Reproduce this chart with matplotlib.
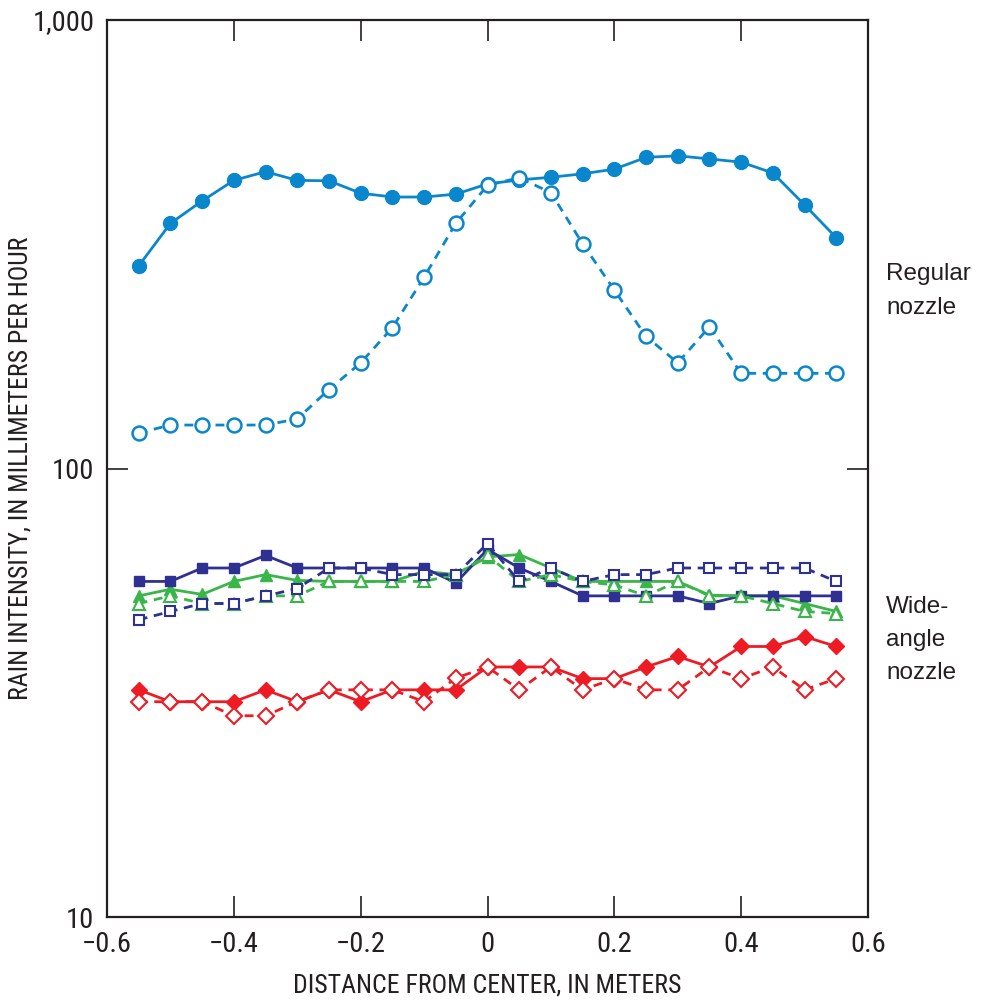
import matplotlib
matplotlib.use("Agg")
import matplotlib.pyplot as plt
from matplotlib import font_manager

# ---------------- data ----------------
distance = [-0.55, -0.50, -0.45, -0.40, -0.35, -0.30, -0.25, -0.20, -0.15, -0.10, -0.05,
            0.00, 0.05, 0.10, 0.15, 0.20, 0.25, 0.30, 0.35, 0.40, 0.45, 0.50, 0.55]

regular_filled = [283, 352, 395, 439, 459, 439, 438, 411, 403, 403, 409,
                  431, 440, 446, 454, 465, 494, 498, 490, 482, 456, 387, 327]
regular_open = [120, 125, 125, 125, 125, 129, 150, 172, 206, 267, 352,
                428, 445, 412, 317, 250, 197, 172, 207, 163, 163, 163, 163]

wide_sq_filled = [56, 56, 60, 60, 64, 60, 60, 60, 60, 60, 55.6,
                  66, 60, 56, 52, 52, 52, 52, 50, 52, 52, 52, 52]
wide_sq_open = [46, 48, 50, 50, 52, 54, 60, 60, 58, 58, 58,
                68, 56, 60, 56, 58, 58, 60, 60, 60, 60, 60, 56]
wide_tri_filled = [52, 53.8, 52.4, 56, 58, 56.3, 56, 56, 56, 59, 58,
                   63.5, 64.3, 60, 56, 56, 56, 56, 52.2, 52, 52, 50, 48]
wide_tri_open = [50, 52, 50, 50, 52, 52, 56, 56, 56, 56, 58,
                 64, 56, 58, 56, 55, 52, 56, 52, 52, 50, 48, 47.5]
wide_dia_filled = [32.1, 30.2, 30.2, 30.2, 32.1, 30.2, 32.1, 30.2, 32.1, 32.1, 32.1,
                   36.1, 36.1, 36.1, 34, 34, 36.1, 38.1, 36.1, 40.1, 40.1, 42.2, 40.1]
wide_dia_open = [30.2, 30.2, 30.2, 28.1, 28.1, 30.2, 32.1, 32.1, 32.1, 30.2, 34.1,
                 36.1, 32.1, 36.1, 32.1, 34, 32.1, 32.1, 36.1, 34, 36.1, 32.1, 34]

x_ticks = [-0.6, -0.4, -0.2, 0.0, 0.2, 0.4, 0.6]
x_tick_labels = ["\u22120.6", "\u22120.4", "\u22120.2", "0", "0.2", "0.4", "0.6"]
y_ticks = [10, 100, 1000]
y_tick_labels = ["10", "100", "1,000"]

# ---------------- style ----------------
fl = font_manager.fontManager.ttflist
names = {f.name for f in fl}
cond_family = None
cond_stretch = 'normal'
for cand in ["Liberation Sans Narrow", "Roboto Condensed", "Open Sans Condensed",
             "Noto Sans Condensed", "DejaVu Sans Condensed"]:
    if cand in names:
        cond_family = cand
        break
if cond_family is None:
    if any(f.name == "DejaVu Sans" and str(f.stretch) in ("condensed", "semi-condensed")
           for f in fl):
        cond_family = "DejaVu Sans"
        cond_stretch = "condensed"
    elif any(f.name == "Noto Sans" and str(f.stretch) in ("condensed", "extra-condensed", "semi-condensed")
             for f in fl):
        cond_family = "Noto Sans"
        cond_stretch = "condensed"
    elif any(f.name == "Roboto" and str(f.stretch) in ("condensed", "semi-condensed")
             for f in fl):
        cond_family = "Roboto"
        cond_stretch = "condensed"
    else:
        cond_family = "Liberation Sans"

plt.rcParams['font.family'] = [cond_family, 'DejaVu Sans']
plt.rcParams['font.stretch'] = cond_stretch

LBLUE = "#0a87cc"
NAVY = "#2e3192"
GREEN = "#3ab54a"
RED = "#ed1c24"
INK = "#231f20"

fig = plt.figure(figsize=(9.82, 10.01), dpi=100)
ax = fig.add_axes([107/982, 1-917/1001, (868-107)/982, (917-20)/1001])

dash = (0, (3.2, 2.4))
lw = 2.0

ax.plot(distance, regular_filled, color=LBLUE, lw=lw, marker='o', ms=10,
        mfc=LBLUE, mec=LBLUE, zorder=3)
ax.plot(distance, regular_open, color=LBLUE, lw=lw, ls=dash, marker='o', ms=10,
        mfc='white', mec=LBLUE, mew=1.8, zorder=4)

ax.plot(distance, wide_dia_filled, color=RED, lw=lw, marker='D', ms=8,
        mfc=RED, mec=RED, zorder=3)
ax.plot(distance, wide_dia_open, color=RED, lw=lw, ls=dash, marker='D', ms=8,
        mfc='white', mec=RED, mew=1.5, zorder=4)

ax.plot(distance, wide_tri_filled, color=GREEN, lw=lw, marker='^', ms=8.5,
        mfc=GREEN, mec=GREEN, zorder=3)
ax.plot(distance, wide_tri_open, color=GREEN, lw=lw, ls=dash, marker='^', ms=8.5,
        mfc='white', mec=GREEN, mew=1.5, zorder=4)

ax.plot(distance, wide_sq_filled, color=NAVY, lw=lw, marker='s', ms=7.5,
        mfc=NAVY, mec=NAVY, zorder=3)
ax.plot(distance, wide_sq_open, color=NAVY, lw=lw, ls=dash, marker='s', ms=7.5,
        mfc='white', mec=NAVY, mew=1.5, zorder=4)

ax.set_yscale('log')
ax.set_xlim(-0.6, 0.6)
ax.set_ylim(10, 1000)
ax.set_xticks(x_ticks)
ax.set_xticklabels(x_tick_labels)
ax.set_yticks(y_ticks)
ax.set_yticklabels(y_tick_labels)
ax.yaxis.set_minor_locator(matplotlib.ticker.NullLocator())

ax.tick_params(axis='both', which='major', direction='in', length=15, width=1.2,
               top=True, right=True, labelsize=20.5, color=INK, labelcolor=INK)
ax.tick_params(axis='x', pad=10)
ax.tick_params(axis='y', pad=9)
for s in ax.spines.values():
    s.set_linewidth(1.6)
    s.set_color(INK)

ax.set_xlabel("DISTANCE FROM CENTER, IN METERS", fontsize=18.5, color=INK, va='center')
ax.xaxis.set_label_coords(0.5, (917 - 985) / 897, transform=ax.transAxes)
ax.set_ylabel("RAIN INTENSITY, IN MILLIMETERS PER HOUR", fontsize=18.5, color=INK,
              va='center')
ax.yaxis.set_label_coords((21 - 107) / 761, 0.5, transform=ax.transAxes)

tfont = dict(family=['Liberation Sans', 'DejaVu Sans'], stretch='normal', fontsize=17.5,
             color=INK, va='center', ha='left', linespacing=1.65)
fig.text(886/982, 1-291/1001, "Regular\nnozzle", **tfont)
fig.text(886/982, 1-640/1001, "Wide-\nangle\nnozzle", **tfont)

fig.savefig("out.png", dpi=100)
